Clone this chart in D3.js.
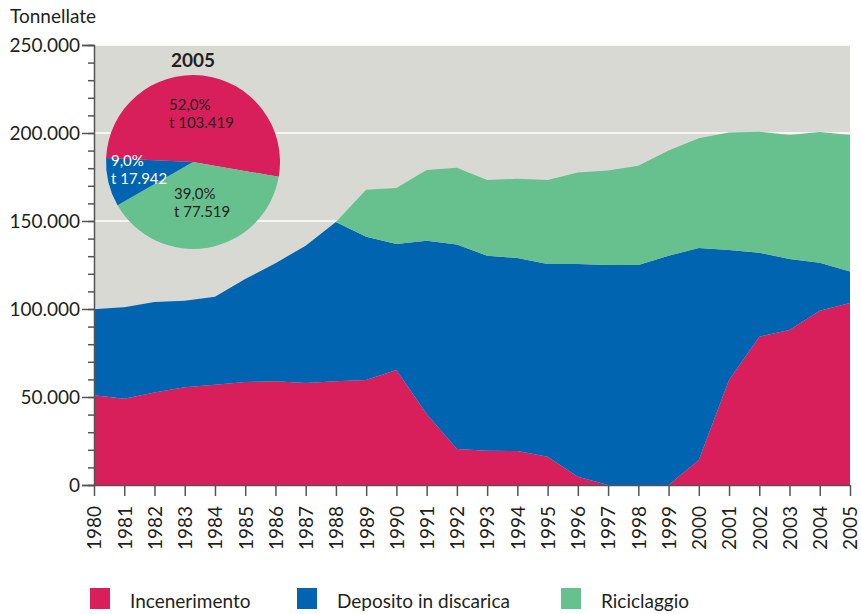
<!DOCTYPE html>
<html>
<head>
<meta charset="utf-8">
<script src="https://cdn.jsdelivr.net/npm/d3@7"></script>
<style>
  body { margin: 0; background: #fff; }
  text { font-family: Lato, "Open Sans", sans-serif; fill: #231f20; }
</style>
</head>
<body>
<div id="chart"></div>
<script>
const width = 861, height = 614;
const margin = { left: 94, right: 11, top: 45, bottom: 129 };

// data (tonnellate)
const years = d3.range(1980, 2006);
const incenerimento = [51000, 49000, 52600, 55500, 57000, 58500, 59000, 58000, 59000, 59600,
  65300, 40300, 20400, 19500, 19300, 16000, 4700, 0, 0, 0,
  14200, 59600, 84300, 88000, 99000, 103419];
const discarica = [49000, 52000, 51400, 49200, 50000, 58500, 67000, 78000, 90500, 81400,
  71700, 98500, 116300, 110800, 109700, 109500, 120800, 125000, 125000, 130300,
  120400, 73900, 47700, 40400, 27300, 17942];
const riciclaggio = [0, 0, 0, 0, 0, 0, 0, 0, 0, 26700,
  31700, 40200, 43600, 43000, 45000, 47800, 52100, 53700, 56400, 59700,
  62400, 66800, 68700, 70400, 74200, 77519];

const series_keys = ["incenerimento", "discarica", "riciclaggio"];
const series_names = ["Incenerimento", "Deposito in discarica", "Riciclaggio"];
const colors = ["#d81e5b", "#0064b1", "#66c18e"];

// pie 2005 (clockwise order: incenerimento, riciclaggio, discarica)
const pie_values = [103419, 77519, 17942];
const pie_perc = ["52,0%", "39,0%", "9,0%"];
const pie_tonn = ["t 103.419", "t 77.519", "t 17.942"];
const pie_colors = [colors[0], colors[2], colors[1]];

const it = d3.formatLocale({ decimal: ",", thousands: ".", grouping: [3], currency: ["€", ""] });
const fmt = it.format(",d");

const svg = d3.select("#chart").append("svg")
  .attr("width", width).attr("height", height);

const x = d3.scaleLinear().domain([1980, 2005]).range([margin.left, width - margin.right]);
const y = d3.scaleLinear().domain([0, 250000]).range([height - margin.bottom, margin.top]);

// background
svg.append("rect")
  .attr("x", x(1980)).attr("y", y(250000))
  .attr("width", x(2005) - x(1980)).attr("height", y(0) - y(250000))
  .attr("fill", "#d9d9d3");

svg.append("g")
  .selectAll("line")
  .data(d3.range(50000, 250001, 50000))
  .join("line")
    .attr("x1", x(1980)).attr("x2", x(2005))
    .attr("y1", (d) => y(d)).attr("y2", (d) => y(d))
    .attr("stroke", "#fff").attr("stroke-width", 1.5);

// stacked areas
const table = years.map((yr, i) => ({
  year: yr,
  incenerimento: incenerimento[i],
  discarica: discarica[i],
  riciclaggio: riciclaggio[i]
}));
const stacked = d3.stack().keys(series_keys)(table);
const area = d3.area()
  .x((d) => x(d.data.year))
  .y0((d) => y(d[0]))
  .y1((d) => y(d[1]));

svg.append("g")
  .selectAll("path")
  .data(stacked)
  .join("path")
    .attr("d", area)
    .attr("fill", (d, i) => colors[i]);

// axes
const y_axis = svg.append("g")
  .attr("transform", `translate(${margin.left},0)`)
  .call(d3.axisLeft(y).tickValues(d3.range(0, 250001, 50000)).tickFormat(fmt).tickSize(12).tickPadding(2));
const y_minor = svg.append("g")
  .attr("transform", `translate(${margin.left},0)`)
  .call(d3.axisLeft(y).tickValues(d3.range(0, 250001, 10000)).tickFormat("").tickSize(6));
y_minor.select(".domain").remove();

const x_axis = svg.append("g")
  .attr("transform", `translate(0,${y(0)})`)
  .call(d3.axisBottom(x).tickValues(years).tickFormat(d3.format("d")).tickSize(11).tickSizeOuter(0));
x_axis.selectAll("text")
  .attr("transform", "rotate(-90)")
  .attr("text-anchor", "end")
  .attr("x", -21).attr("y", 0)
  .attr("dy", "0.36em");

[y_axis, y_minor, x_axis].forEach((g) => {
  g.selectAll("line").attr("stroke", "#555").attr("stroke-width", 1.5);
  g.selectAll(".domain").attr("stroke", "#555").attr("stroke-width", 1.5);
  g.selectAll("text").attr("font-size", 19).attr("fill", "#231f20")
    .attr("font-family", "Lato, sans-serif");
});

svg.append("text")
  .attr("x", 10).attr("y", 23)
  .attr("font-size", 19)
  .text("Tonnellate");

// pie 2005
const pie_cx = 193, pie_cy = 162, pie_r = 87;
const start = -87.4 * Math.PI / 180;
const arcs = d3.pie().sort(null).startAngle(start).endAngle(start + 2 * Math.PI)(pie_values);
const pie_g = svg.append("g").attr("transform", `translate(${pie_cx},${pie_cy})`);
pie_g.selectAll("path")
  .data(arcs)
  .join("path")
    .attr("d", d3.arc().innerRadius(0).outerRadius(pie_r))
    .attr("fill", (d, i) => pie_colors[i]);

svg.append("text")
  .attr("x", pie_cx).attr("y", 67)
  .attr("text-anchor", "middle")
  .attr("font-size", 19).attr("font-weight", "bold")
  .text("2005");

const label_pos = [[169, 110], [174, 199], [111, 166]];
const label_fill = ["#231f20", "#231f20", "#fff"];
label_pos.forEach((p, i) => {
  const t = svg.append("text")
    .attr("x", p[0]).attr("y", p[1])
    .attr("font-size", 15)
    .style("fill", label_fill[i]);
  t.append("tspan").text(pie_perc[i]);
  t.append("tspan").attr("x", p[0]).attr("dy", 18).text(pie_tonn[i]);
});

// legend
const legend_x = [90, 297, 561];
const legend = svg.append("g")
  .selectAll("g")
  .data(series_names)
  .join("g")
    .attr("transform", (d, i) => `translate(${legend_x[i]},588)`);
legend.append("rect")
  .attr("width", 20).attr("height", 21)
  .attr("fill", (d, i) => colors[i]);
legend.append("text")
  .attr("x", 40).attr("y", 20)
  .attr("font-size", 19)
  .text((d) => d);
</script>
</body>
</html>
